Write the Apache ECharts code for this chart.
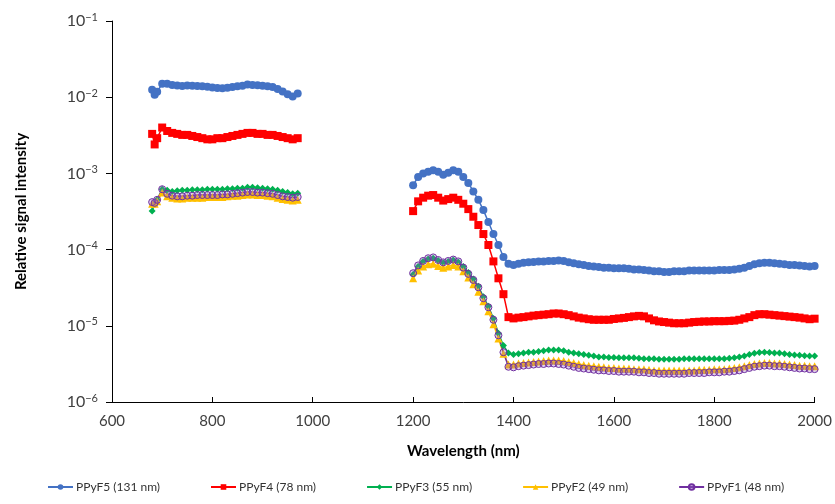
<!DOCTYPE html>
<html>
<head>
<meta charset="utf-8">
<script src="https://cdn.jsdelivr.net/npm/echarts@6/dist/echarts.min.js"></script>
<style>
  html, body { margin: 0; padding: 0; background: #fff; }
  #myChart { width: 835px; height: 504px; }
</style>
</head>
<body>
<div id="myChart"></div>
<script>
// wavelengths (nm) of the two measured ranges
var wl1 = [680, 685, 690, 700, 710, 720, 730, 740, 750, 760, 770, 780, 790, 800, 810, 820,
  830, 840, 850, 860, 870, 880, 890, 900, 910, 920, 930, 940, 950, 960, 970];
var wl2 = [1200, 1210, 1220, 1230, 1240, 1250, 1260, 1270, 1280, 1290,
  1300, 1310, 1320, 1330, 1340, 1350, 1360, 1370, 1380, 1390,
  1400, 1410, 1420, 1430, 1440, 1450, 1460, 1470, 1480, 1490,
  1500, 1510, 1520, 1530, 1540, 1550, 1560, 1570, 1580, 1590,
  1600, 1610, 1620, 1630, 1640, 1650, 1660, 1670, 1680, 1690,
  1700, 1710, 1720, 1730, 1740, 1750, 1760, 1770, 1780, 1790,
  1800, 1810, 1820, 1830, 1840, 1850, 1860, 1870, 1880, 1890,
  1900, 1910, 1920, 1930, 1940, 1950, 1960, 1970, 1980, 1990, 2000];

var names = ['PPyF5 (131 nm)', 'PPyF4 (78 nm)', 'PPyF3 (55 nm)', 'PPyF2 (49 nm)', 'PPyF1 (48 nm)'];
var yTicks = [1e-6, 1e-5, 1e-4, 1e-3, 1e-2, 1e-1];

// PPyF5
var f5a = [0.0125, 0.0108, 0.0118, 0.0150, 0.0150, 0.0145, 0.0142, 0.0140, 0.0142, 0.0141, 0.0140,
  0.0139, 0.0137, 0.0134, 0.0132, 0.0131, 0.0133, 0.0136, 0.0139, 0.0141, 0.0147, 0.0145, 0.0143,
  0.0141, 0.0139, 0.0136, 0.0128, 0.0119, 0.0109, 0.0102, 0.0112];
var f5b = [7.0e-4, 9.0e-4, 1.0e-3, 1.05e-3, 1.1e-3, 1.05e-3, 9.6e-4, 1.02e-3, 1.1e-3, 1.05e-3,
  9.0e-4, 7.5e-4, 5.8e-4, 4.5e-4, 3.3e-4, 2.3e-4, 1.6e-4, 1.15e-4, 8.0e-5, 6.5e-5,
  6.3e-5, 6.5e-5, 6.7e-5, 6.8e-5, 6.9e-5, 7.0e-5, 7.0e-5, 7.1e-5, 7.1e-5, 7.2e-5,
  7.1e-5, 6.8e-5, 6.6e-5, 6.4e-5, 6.3e-5, 6.1e-5, 6.0e-5, 5.9e-5, 5.8e-5, 5.8e-5,
  5.7e-5, 5.7e-5, 5.7e-5, 5.6e-5, 5.5e-5, 5.5e-5, 5.4e-5, 5.3e-5, 5.2e-5, 5.2e-5,
  5.1e-5, 5.1e-5, 5.2e-5, 5.2e-5, 5.2e-5, 5.3e-5, 5.3e-5, 5.3e-5, 5.3e-5, 5.3e-5,
  5.3e-5, 5.4e-5, 5.4e-5, 5.4e-5, 5.5e-5, 5.6e-5, 5.8e-5, 6.1e-5, 6.4e-5, 6.6e-5,
  6.7e-5, 6.7e-5, 6.6e-5, 6.5e-5, 6.4e-5, 6.3e-5, 6.3e-5, 6.2e-5, 6.1e-5, 6.0e-5, 6.1e-5];

// PPyF4
var f4a = [0.0033, 0.0024, 0.0029, 0.0040, 0.0036, 0.0034, 0.0033, 0.0032, 0.0032, 0.0031, 0.0030,
  0.0029, 0.0028, 0.0028, 0.0029, 0.0029, 0.0030, 0.0031, 0.0032, 0.0033, 0.0034, 0.0034, 0.0033,
  0.0033, 0.0032, 0.0032, 0.0031, 0.0030, 0.0029, 0.0028, 0.0029];
var f4b = [3.2e-4, 4.3e-4, 4.8e-4, 5.1e-4, 5.2e-4, 4.8e-4, 4.4e-4, 4.6e-4, 4.8e-4, 4.5e-4,
  4.0e-4, 3.4e-4, 2.7e-4, 2.1e-4, 1.6e-4, 1.15e-4, 7.0e-5, 4.2e-5, 2.6e-5, 1.3e-5,
  1.25e-5, 1.28e-5, 1.3e-5, 1.33e-5, 1.36e-5, 1.38e-5, 1.4e-5, 1.42e-5, 1.45e-5, 1.45e-5,
  1.42e-5, 1.38e-5, 1.33e-5, 1.28e-5, 1.25e-5, 1.22e-5, 1.2e-5, 1.2e-5, 1.2e-5, 1.2e-5,
  1.23e-5, 1.25e-5, 1.27e-5, 1.3e-5, 1.33e-5, 1.35e-5, 1.33e-5, 1.25e-5, 1.18e-5, 1.14e-5,
  1.12e-5, 1.1e-5, 1.08e-5, 1.08e-5, 1.08e-5, 1.1e-5, 1.12e-5, 1.13e-5, 1.14e-5, 1.14e-5,
  1.15e-5, 1.15e-5, 1.15e-5, 1.16e-5, 1.17e-5, 1.2e-5, 1.25e-5, 1.3e-5, 1.38e-5, 1.42e-5,
  1.42e-5, 1.4e-5, 1.38e-5, 1.36e-5, 1.34e-5, 1.32e-5, 1.3e-5, 1.28e-5, 1.25e-5, 1.22e-5, 1.24e-5];

// PPyF3
var f3a = [0.00032, 0.00040, 0.00045, 0.00062, 0.00060, 0.00058, 0.00059, 0.00060, 0.00060, 0.00061,
  0.00061, 0.00061, 0.00062, 0.00062, 0.00062, 0.00062, 0.00063, 0.00063, 0.00064, 0.00064, 0.00066,
  0.00066, 0.00065, 0.00064, 0.00063, 0.00062, 0.00060, 0.00058, 0.00056, 0.00054, 0.00055];
var f3b = [4.7e-5, 6.0e-5, 7.0e-5, 7.5e-5, 7.7e-5, 7.2e-5, 6.7e-5, 7.0e-5, 7.3e-5, 6.9e-5,
  6.0e-5, 5.0e-5, 4.1e-5, 3.3e-5, 2.4e-5, 1.8e-5, 1.25e-5, 8.0e-6, 5.5e-6, 4.4e-6,
  4.2e-6, 4.3e-6, 4.4e-6, 4.5e-6, 4.5e-6, 4.6e-6, 4.7e-6, 4.8e-6, 4.8e-6, 4.8e-6,
  4.7e-6, 4.5e-6, 4.4e-6, 4.3e-6, 4.2e-6, 4.1e-6, 4.0e-6, 3.9e-6, 3.9e-6, 3.85e-6,
  3.85e-6, 3.8e-6, 3.8e-6, 3.8e-6, 3.8e-6, 3.75e-6, 3.7e-6, 3.7e-6, 3.7e-6, 3.65e-6,
  3.65e-6, 3.65e-6, 3.65e-6, 3.65e-6, 3.7e-6, 3.7e-6, 3.7e-6, 3.7e-6, 3.7e-6, 3.7e-6,
  3.7e-6, 3.7e-6, 3.7e-6, 3.75e-6, 3.8e-6, 3.9e-6, 4.0e-6, 4.2e-6, 4.35e-6, 4.45e-6,
  4.5e-6, 4.45e-6, 4.4e-6, 4.4e-6, 4.3e-6, 4.2e-6, 4.15e-6, 4.1e-6, 4.05e-6, 4.0e-6, 4.0e-6];

// PPyF2
var f2a = [0.00040, 0.00040, 0.00043, 0.00056, 0.00050, 0.00048, 0.00047, 0.00047, 0.00048, 0.00048,
  0.00048, 0.00048, 0.00049, 0.00049, 0.00049, 0.00049, 0.00050, 0.00051, 0.00051, 0.00052, 0.00053,
  0.00053, 0.00052, 0.00052, 0.00051, 0.00050, 0.00048, 0.00046, 0.00045, 0.00044, 0.00045];
var f2b = [4.2e-5, 5.3e-5, 6.0e-5, 6.4e-5, 6.5e-5, 6.1e-5, 5.8e-5, 6.0e-5, 6.3e-5, 6.0e-5,
  5.2e-5, 4.3e-5, 3.5e-5, 2.8e-5, 2.1e-5, 1.55e-5, 1.05e-5, 6.8e-6, 4.3e-6, 3.1e-6,
  3.1e-6, 3.2e-6, 3.25e-6, 3.3e-6, 3.35e-6, 3.4e-6, 3.45e-6, 3.5e-6, 3.5e-6, 3.5e-6,
  3.45e-6, 3.35e-6, 3.25e-6, 3.15e-6, 3.05e-6, 3.0e-6, 2.95e-6, 2.9e-6, 2.85e-6, 2.8e-6,
  2.8e-6, 2.75e-6, 2.75e-6, 2.75e-6, 2.7e-6, 2.7e-6, 2.7e-6, 2.65e-6, 2.6e-6, 2.6e-6,
  2.6e-6, 2.6e-6, 2.6e-6, 2.6e-6, 2.6e-6, 2.6e-6, 2.6e-6, 2.65e-6, 2.65e-6, 2.65e-6,
  2.7e-6, 2.7e-6, 2.7e-6, 2.75e-6, 2.8e-6, 2.85e-6, 2.95e-6, 3.05e-6, 3.15e-6, 3.2e-6,
  3.25e-6, 3.25e-6, 3.2e-6, 3.2e-6, 3.15e-6, 3.1e-6, 3.05e-6, 3.0e-6, 3.0e-6, 2.95e-6, 2.95e-6];

// PPyF1
var f1a = [0.00042, 0.00041, 0.00045, 0.00062, 0.00054, 0.00051, 0.00050, 0.00050, 0.00051, 0.00051,
  0.00052, 0.00052, 0.00052, 0.00052, 0.00052, 0.00053, 0.00053, 0.00054, 0.00055, 0.00056, 0.00057,
  0.00057, 0.00056, 0.00056, 0.00055, 0.00054, 0.00052, 0.00050, 0.00049, 0.00048, 0.00049];
var f1b = [4.9e-5, 6.2e-5, 7.1e-5, 7.7e-5, 7.9e-5, 7.3e-5, 6.8e-5, 7.1e-5, 7.4e-5, 7.0e-5,
  5.8e-5, 4.8e-5, 4.0e-5, 3.2e-5, 2.3e-5, 1.75e-5, 1.2e-5, 7.5e-6, 4.5e-6, 2.9e-6,
  2.85e-6, 2.95e-6, 3.0e-6, 3.05e-6, 3.1e-6, 3.15e-6, 3.15e-6, 3.2e-6, 3.2e-6, 3.15e-6,
  3.1e-6, 3.0e-6, 2.9e-6, 2.8e-6, 2.75e-6, 2.7e-6, 2.65e-6, 2.6e-6, 2.6e-6, 2.55e-6,
  2.55e-6, 2.5e-6, 2.5e-6, 2.5e-6, 2.5e-6, 2.45e-6, 2.45e-6, 2.4e-6, 2.4e-6, 2.35e-6,
  2.35e-6, 2.35e-6, 2.35e-6, 2.35e-6, 2.35e-6, 2.4e-6, 2.4e-6, 2.4e-6, 2.4e-6, 2.45e-6,
  2.45e-6, 2.45e-6, 2.5e-6, 2.5e-6, 2.55e-6, 2.6e-6, 2.7e-6, 2.8e-6, 2.9e-6, 2.95e-6,
  3.0e-6, 3.0e-6, 2.95e-6, 2.95e-6, 2.9e-6, 2.85e-6, 2.8e-6, 2.75e-6, 2.75e-6, 2.7e-6, 2.7e-6];

var FONT = 'Lato, "Noto Sans", sans-serif';

// join both ranges with a gap so the line breaks between 970 and 1200 nm
function pairs(a, b) {
  var out = [];
  for (var i = 0; i < wl1.length; i++) out.push([wl1[i], a[i]]);
  out.push([1085, '-']);
  for (var j = 0; j < wl2.length; j++) out.push([wl2[j], b[j]]);
  return out;
}

function mkSeries(name, a, b, color, symbol, size, fill) {
  return {
    name: name,
    type: 'line',
    data: pairs(a, b),
    symbol: symbol,
    symbolSize: size,
    showAllSymbol: true,
    connectNulls: false,
    lineStyle: { color: color, width: 1.5 },
    itemStyle: { color: fill || color, borderColor: color, borderWidth: fill ? 1 : 0 }
  };
}

var myChart = echarts.init(document.getElementById('myChart'));
var option = {
  animation: false,
  textStyle: { fontFamily: FONT },
  grid: { left: 112, right: 20, top: 21, bottom: 102 },
  legend: {
    bottom: 6,
    left: 42,
    itemGap: 50,
    itemWidth: 25,
    itemHeight: 7,
    textStyle: { fontFamily: FONT, fontSize: 12, color: '#333', padding: [0, 0, 0, -2] },
    data: names
  },
  xAxis: {
    type: 'value',
    min: 600,
    max: 2000,
    interval: 200,
    name: 'Wavelength (nm)',
    nameLocation: 'middle',
    nameGap: 42,
    nameTextStyle: { fontFamily: FONT, fontWeight: 'bold', fontSize: 15, color: '#000' },
    axisLine: { lineStyle: { color: '#000', width: 1 } },
    axisTick: { inside: true, length: 5, lineStyle: { color: '#000' } },
    axisLabel: {
      margin: 12, fontSize: 15, color: '#404040', fontFamily: FONT,
      formatter: function (v) { return String(v); }
    },
    splitLine: { show: false }
  },
  yAxis: {
    type: 'log',
    logBase: 10,
    min: yTicks[0],
    max: yTicks[yTicks.length - 1],
    name: 'Relative signal intensity',
    nameLocation: 'middle',
    nameGap: 83,
    nameTextStyle: { fontFamily: FONT, fontWeight: 'bold', fontSize: 15, color: '#000' },
    axisLine: { show: true, lineStyle: { color: '#000', width: 1 } },
    axisTick: { show: true, length: 6, lineStyle: { color: '#000' } },
    axisLabel: {
      margin: 14,
      color: '#404040',
      formatter: function (v) {
        return '{b|10}{s|\u2212' + Math.abs(Math.round(Math.log10(v))) + '}';
      },
      rich: {
        b: { fontSize: 16, fontFamily: FONT, color: '#404040' },
        s: { fontSize: 11, fontFamily: FONT, color: '#404040', verticalAlign: 'top', padding: [0, 0, 8, 0] }
      }
    },
    splitLine: { show: false }
  },
  series: [
    mkSeries(names[0], f5a, f5b, '#4472C4', 'circle', 8),
    mkSeries(names[1], f4a, f4b, '#FF0000', 'rect', 8),
    mkSeries(names[2], f3a, f3b, '#00B050', 'diamond', 7),
    mkSeries(names[3], f2a, f2b, '#FFC000', 'triangle', 8),
    mkSeries(names[4], f1a, f1b, '#7030A0', 'circle', 7, 'rgba(150,100,200,0.3)')
  ]
};
myChart.setOption(option);
</script>
</body>
</html>
